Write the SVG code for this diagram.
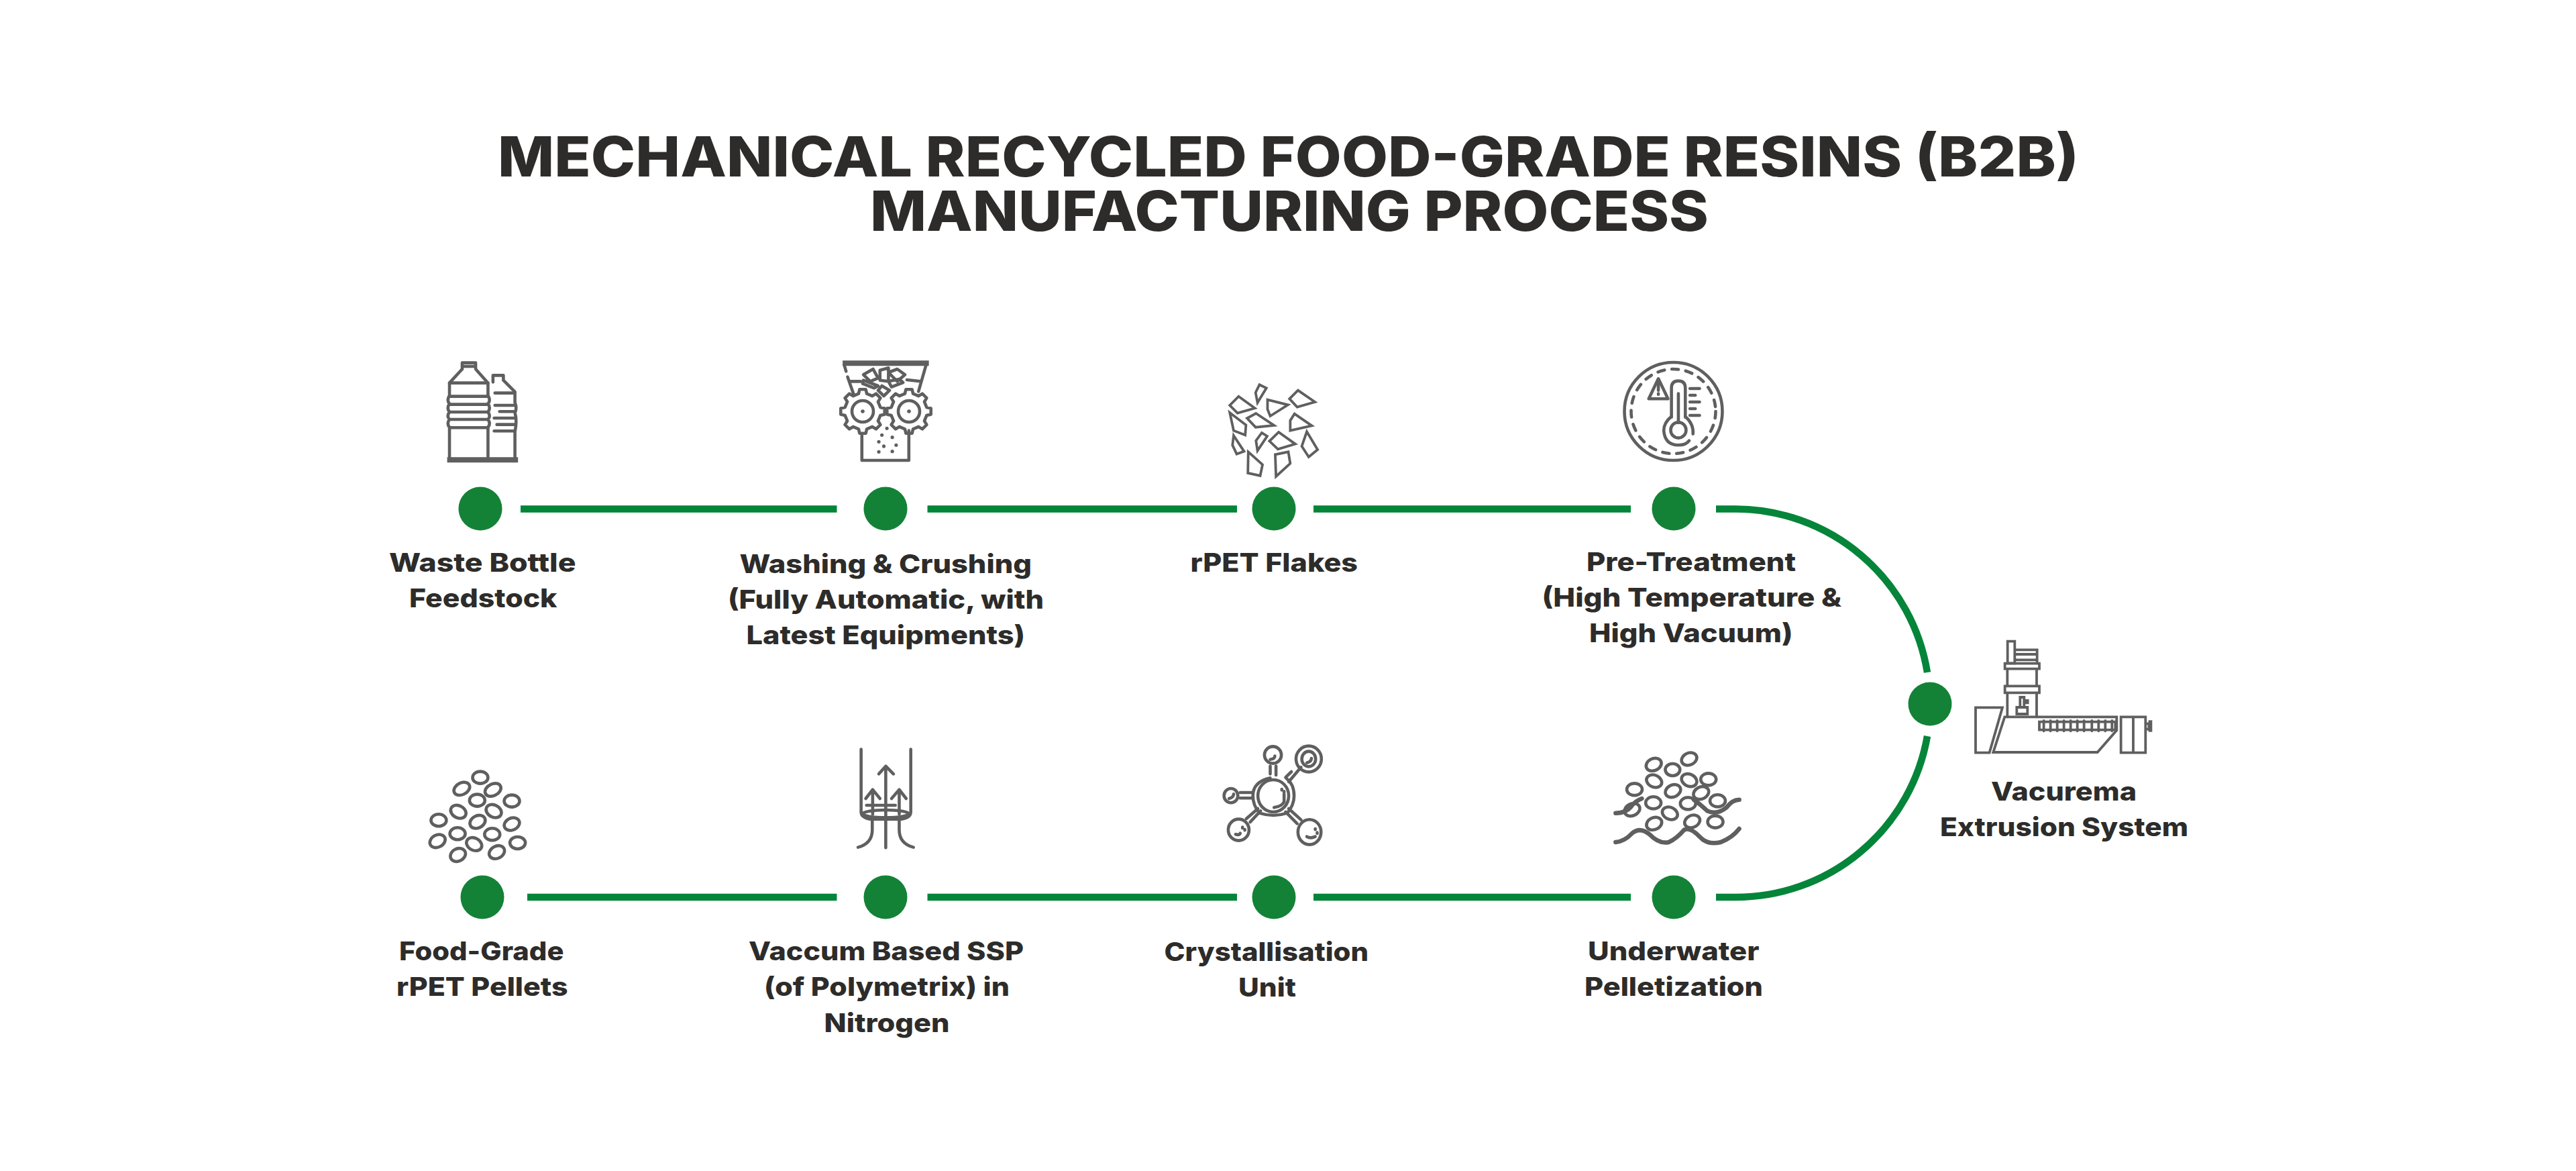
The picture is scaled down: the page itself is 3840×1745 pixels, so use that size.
<svg xmlns="http://www.w3.org/2000/svg" xmlns:xlink="http://www.w3.org/1999/xlink" width="3840" height="1745" viewBox="0 0 3840 1745">
<style>
.t{font-family:"Inter","Liberation Sans",sans-serif;font-weight:800;font-size:38.5px;fill:#2d2c2a}
.h{font-family:"Inter","Liberation Sans",sans-serif;font-weight:800;font-size:82.5px;fill:#2d2c2a}
.d{fill:#138237}
.c{fill:none;stroke:#05853a;stroke-width:10.5}
.i,.i *{fill:none;stroke:#5f5f5f;stroke-width:4.6;stroke-linejoin:round;stroke-linecap:round;vector-effect:non-scaling-stroke}
.th,.th *{stroke-width:3.8;stroke-linejoin:miter}
.f{fill:#5f5f5f!important;stroke:none!important}
.b{stroke-width:8!important;stroke-linecap:butt!important}
</style>
<defs>
<path id="gear" d="M26.3-6.1L32.7-4.6L32.7 4.6L26.3 6.1L22.9 14.3L26.4 19.9L19.9 26.4L14.3 22.9L6.1 26.3L4.6 32.7L-4.6 32.7L-6.1 26.3L-14.3 22.9L-19.9 26.4L-26.4 19.9L-22.9 14.3L-26.3 6.1L-32.7 4.6L-32.7-4.6L-26.3-6.1L-22.9-14.3L-26.4-19.9L-19.9-26.4L-14.3-22.9L-6.1-26.3L-4.6-32.7L4.6-32.7L6.1-26.3L14.3-22.9L19.9-26.4L26.4-19.9L22.9-14.3Z"/>
</defs>
<rect width="3840" height="1745" fill="#fff"/>
<g id="title">
<text class="h" x="742" y="263" textLength="2357" lengthAdjust="spacingAndGlyphs">MECHANICAL RECYCLED FOOD-GRADE RESINS (B2B)</text>
<text class="h" x="1297" y="343.5" textLength="1250" lengthAdjust="spacingAndGlyphs">MANUFACTURING PROCESS</text>
</g>
<g id="connectors">
<path class="c" d="M776 758.5H1247.5"/>
<path class="c" d="M1382.5 758.5H1844"/>
<path class="c" d="M1958 758.5H2431"/>
<path class="c" d="M2558 758.5H2587A290 290 0 0 1 2873 1002"/>
<path class="c" d="M2873 1097A290 290 0 0 1 2587 1337H2558"/>
<path class="c" d="M1958 1337H2431"/>
<path class="c" d="M1382.5 1337H1844"/>
<path class="c" d="M786 1337H1247.5"/>
</g>
<g id="node-waste-bottle">
<g class="i" transform="translate(600 500) scale(.574 .3333)">
<path d="M155 150V122H190V150L222 212V268Q230 290 222 305Q230 325 222 342Q230 360 222 375Q230 395 222 410V555"/>
<path d="M155 150L122 212V268Q114 290 122 305Q114 325 122 342Q114 360 122 375Q114 395 122 410V555"/>
<path d="M160 138H186M122 212H222M122 272H222M122 308H222M122 342H222M122 375H222M122 412H222"/>
<path d="M235 208V178H262V200L292 252V300Q298 325 292 345Q298 380 292 430V550"/>
<path d="M240 257H290M240 312H290M252 340H290M238 369H290M245 398H290M238 427H290"/>
<path class="b" d="M116 556H300"/>
</g>
<circle class="d" cx="716" cy="758" r="32.5"/>
<text class="t" x="580" y="852" textLength="278.5" lengthAdjust="spacingAndGlyphs">Waste Bottle</text>
<text class="t" x="610" y="905" textLength="220.5" lengthAdjust="spacingAndGlyphs">Feedstock</text>
</g>
<g id="node-washing-crushing">
<g class="i" transform="translate(600 500) scale(.574 .3333)">
<path class="b" d="M1143 124H1367"/>
<path d="M1360 130L1340 250M1147 130L1152 160M1156 185L1172 265M1160 205H1190M1310 198L1345 205"/>
<path d="M1197 175L1222 150L1235 190L1215 205ZM1240 155L1262 145L1262 205L1240 200ZM1262 165L1285 150L1305 175L1285 205ZM1197 200L1235 225L1225 235L1195 215ZM1262 205L1290 195L1300 210L1270 230ZM1245 225L1265 245L1250 270L1235 245Z"/>
<path d="M1193 440V558H1315V425"/>
<g class="f">
<ellipse class="f" cx="1258" cy="415" rx="4.5" ry="8"/><ellipse class="f" cx="1245" cy="445" rx="4.5" ry="8"/><ellipse class="f" cx="1272" cy="455" rx="4.5" ry="8"/><ellipse class="f" cx="1237" cy="475" rx="4.5" ry="8"/><ellipse class="f" cx="1250" cy="495" rx="4.5" ry="8"/><ellipse class="f" cx="1282" cy="490" rx="4.5" ry="8"/><ellipse class="f" cx="1237" cy="520" rx="4.5" ry="8"/><ellipse class="f" cx="1272" cy="518" rx="4.5" ry="8"/>
</g>
</g>
<g class="i">
<use href="#gear" transform="translate(1286 613)"/><circle cx="1286" cy="613" r="16"/><circle class="f" cx="1286" cy="613" r="2.8"/>
<use href="#gear" transform="translate(1355 613)"/><circle cx="1355" cy="613" r="16"/><circle class="f" cx="1355" cy="613" r="2.8"/>
</g>
<circle class="d" cx="1320" cy="758" r="32.5"/>
<text class="t" x="1102.5" y="853.5" textLength="435.5" lengthAdjust="spacingAndGlyphs">Washing &amp; Crushing</text>
<text class="t" x="1085" y="907" textLength="471" lengthAdjust="spacingAndGlyphs">(Fully Automatic, with</text>
<text class="t" x="1112.5" y="960" textLength="415.5" lengthAdjust="spacingAndGlyphs">Latest Equipments)</text>
</g>
<g id="node-rpet-flakes">
<g class="i th" transform="translate(1750 500) scale(.574 .3333)">
<path d="M222 220L240 235L217 300L212 255ZM168 272L210 325L165 347L145 312ZM243 287L296 310L250 360L243 330ZM322 245L366 297L320 320L300 283ZM145 345L187 400L185 445L155 425ZM213 348L260 402L212 410L190 370ZM313 350L358 403L302 425L302 380ZM228 435L242 450L217 515L213 470ZM272 432L315 485L270 508L248 472ZM345 430L373 510L350 543L332 495ZM155 447L182 518L163 530L152 490ZM193 520L230 577L224 627L192 615ZM297 520L302 572L265 630L263 532Z"/>
</g>
<circle class="d" cx="1899" cy="758" r="32.5"/>
<text class="t" x="1774.5" y="852" textLength="249.5" lengthAdjust="spacingAndGlyphs">rPET Flakes</text>
</g>
<g id="node-pre-treatment">
<g class="i">
<circle cx="2494.5" cy="613" r="73"/>
<circle cx="2494.5" cy="613" r="63" stroke-dasharray="10 11" stroke-linecap="butt"/>
</g>
<g class="i" transform="translate(1750 500) scale(.574 .3333)">
<path d="M1292 365V235Q1292 203 1310 203Q1328 203 1328 235V365"/>
<path d="M1292 362Q1272 390 1272 425Q1275 490 1310 490Q1330 490 1338 470M1328 362Q1350 395 1348 440"/>
<ellipse cx="1310" cy="423" rx="20" ry="35"/>
<path d="M1310 260V390"/>
<path d="M1340 237H1365M1340 267H1354M1340 297H1365M1340 327H1354M1340 357H1365"/>
<path d="M1258 193L1283 283H1233Z"/>
<path d="M1258 215V245M1258 260V263"/>
</g>
<circle class="d" cx="2495" cy="758" r="32.5"/>
<text class="t" x="2365" y="851" textLength="312" lengthAdjust="spacingAndGlyphs">Pre-Treatment</text>
<text class="t" x="2298.5" y="904" textLength="446.5" lengthAdjust="spacingAndGlyphs">(High Temperature &amp;</text>
<text class="t" x="2369" y="957" textLength="303.5" lengthAdjust="spacingAndGlyphs">High Vacuum)</text>
</g>
<g id="node-vacurema">
<g class="i th" transform="translate(2800 900) scale(.3333)">
<path d="M578 167H610V265H578ZM610 205H710V265M610 225H710M610 250H710"/>
<path d="M566 266H720V290H566ZM577 290V367M708 290V367"/>
<path d="M566 367H720V397H566ZM577 397V505M708 397V505"/>
<path d="M634 417H652V462H634ZM652 432H668V442H652ZM619 462H667V492H619Z"/>
<path d="M435 463H555L497 665H435Z"/>
<path d="M565 505H1066V565L980 663H514Z"/>
<path d="M720 527H1060V563H720Z"/>
<path d="M740 522V568M770 522V568M800 522V568M830 522V568M860 522V568M890 522V568M920 522V568M955 522V568M985 522V568M1015 522V568M1045 522V568"/>
<path d="M1085 505H1195V665H1085ZM1140 505V665M1195 535H1210V560H1195"/>
<rect class="f" x="1208" y="520" width="17" height="52"/>
</g>
<circle class="d" cx="2877" cy="1049" r="32.5"/>
<text class="t" x="2968" y="1192.5" textLength="217" lengthAdjust="spacingAndGlyphs">Vacurema</text>
<text class="t" x="2892" y="1246" textLength="370" lengthAdjust="spacingAndGlyphs">Extrusion System</text>
</g>
<g id="node-underwater-pelletization">
<g class="i" transform="translate(1750 1100) scale(.574 .3333)">
<ellipse cx="1338" cy="93" rx="19" ry="29" transform="rotate(15 1338 93)"/><ellipse cx="1246" cy="118" rx="19" ry="29" transform="rotate(15 1246 118)"/><ellipse cx="1295" cy="141" rx="19" ry="27"/><ellipse cx="1388" cy="184" rx="20" ry="27"/><ellipse cx="1247" cy="192" rx="19" ry="29" transform="rotate(-15 1247 192)"/><ellipse cx="1338" cy="188" rx="19" ry="29" transform="rotate(-15 1338 188)"/><ellipse cx="1196" cy="229" rx="20" ry="27"/><ellipse cx="1296" cy="236" rx="19" ry="29" transform="rotate(15 1296 236)"/><ellipse cx="1369" cy="245" rx="19" ry="29" transform="rotate(15 1369 245)"/><ellipse cx="1245" cy="289" rx="20" ry="27"/><ellipse cx="1335" cy="292" rx="20" ry="27"/><ellipse cx="1412" cy="280" rx="20" ry="27"/><ellipse cx="1190" cy="320" rx="19" ry="29" transform="rotate(15 1190 320)"/><ellipse cx="1288" cy="336" rx="19" ry="29" transform="rotate(-15 1288 336)"/><ellipse cx="1247" cy="382" rx="19" ry="29" transform="rotate(15 1247 382)"/><ellipse cx="1346" cy="372" rx="19" ry="29" transform="rotate(15 1346 372)"/><ellipse cx="1406" cy="374" rx="20" ry="27"/>
<path style="stroke-width:6.5" d="M1147 465Q1170 462 1190 425Q1210 395 1235 430Q1260 475 1285 465Q1305 450 1325 410Q1340 395 1365 440Q1385 480 1420 465Q1450 445 1468 405"/>
<path style="stroke-width:6.5" d="M1147 335Q1175 335 1190 300Q1200 280 1215 270M1350 275Q1370 300 1385 325Q1410 345 1435 310Q1450 275 1468 275"/>
</g>
<circle class="d" cx="2495" cy="1337" r="32.5"/>
<text class="t" x="2367" y="1431" textLength="255.5" lengthAdjust="spacingAndGlyphs">Underwater</text>
<text class="t" x="2362" y="1484" textLength="266" lengthAdjust="spacingAndGlyphs">Pelletization</text>
</g>
<g id="node-crystallisation">
<g class="i" transform="translate(1750 1100) scale(.574 .3333)">
<ellipse cx="258" cy="258" rx="40" ry="72"/>
<path d="M250 178Q205 195 205 258Q205 300 222 335Q258 355 294 335Q312 300 312 258Q312 205 292 180"/>
<ellipse cx="257" cy="75" rx="22" ry="38"/>
<ellipse cx="350" cy="93" rx="33" ry="58"/><ellipse cx="350" cy="93" rx="18" ry="34"/>
<ellipse cx="148" cy="257" rx="18" ry="32"/>
<ellipse cx="168" cy="410" rx="27" ry="48"/>
<ellipse cx="352" cy="420" rx="30" ry="56"/>
<path d="M250 125V160M265 125V165M298 195L330 130M290 175L305 150"/>
<path d="M172 243H205M172 268H205M218 315L188 360M225 325L198 375M298 315L330 365M290 330L320 382"/>
<path d="M286 250V285Q280 305 260 310M262 80Q262 92 250 95M357 90Q357 105 345 110M155 250Q155 265 143 270M345 440Q355 450 367 440M160 430Q170 435 172 425"/>
<path d="M280 228V232M286 238V242M178 398V402M184 408V412M367 405V409M372 422V426"/>
</g>
<circle class="d" cx="1899" cy="1337" r="32.5"/>
<text class="t" x="1735.5" y="1432" textLength="304.5" lengthAdjust="spacingAndGlyphs">Crystallisation</text>
<text class="t" x="1846" y="1485" textLength="86" lengthAdjust="spacingAndGlyphs">Unit</text>
</g>
<g id="node-vaccum-ssp">
<g class="i" transform="translate(600 1100) scale(.574 .3333)">
<path d="M1191 50V330Q1191 355 1215 362H1295Q1320 355 1320 330V50"/>
<ellipse cx="1255" cy="338" rx="60" ry="17"/>
<path d="M1255 350V130M1237 160L1255 125L1275 160"/>
<path d="M1221 340V235M1203 270L1221 230L1240 270"/>
<path d="M1290 340V235M1270 270L1290 230L1308 270"/>
<path d="M1205 300H1280"/>
<path d="M1255 365V490M1220 365V410Q1220 470 1183 488M1290 365V410Q1290 470 1327 488"/>
</g>
<circle class="d" cx="1320" cy="1337" r="32.5"/>
<text class="t" x="1116" y="1431" textLength="410" lengthAdjust="spacingAndGlyphs">Vaccum Based SSP</text>
<text class="t" x="1139" y="1484" textLength="366" lengthAdjust="spacingAndGlyphs">(of Polymetrix) in</text>
<text class="t" x="1228.6" y="1538" textLength="187" lengthAdjust="spacingAndGlyphs">Nitrogen</text>
</g>
<g id="node-food-grade-pellets">
<g class="i" transform="translate(600 1100) scale(.574 .3333)">
<ellipse cx="202" cy="176" rx="20" ry="27"/><ellipse cx="154" cy="226" rx="19" ry="30" transform="rotate(20 154 226)"/><ellipse cx="235" cy="231" rx="19" ry="30" transform="rotate(20 235 231)"/><ellipse cx="194" cy="278" rx="20" ry="27"/><ellipse cx="284" cy="281" rx="20" ry="27"/><ellipse cx="145" cy="329" rx="19" ry="30" transform="rotate(-15 145 329)"/><ellipse cx="237" cy="326" rx="19" ry="30" transform="rotate(-15 237 326)"/><ellipse cx="94" cy="367" rx="20" ry="27"/><ellipse cx="195" cy="374" rx="19" ry="30" transform="rotate(15 195 374)"/><ellipse cx="284" cy="384" rx="19" ry="29" transform="rotate(15 284 384)"/><ellipse cx="143" cy="427" rx="20" ry="27"/><ellipse cx="233" cy="430" rx="20" ry="27"/><ellipse cx="91" cy="460" rx="19" ry="30" transform="rotate(15 91 460)"/><ellipse cx="186" cy="474" rx="19" ry="30" transform="rotate(-15 186 474)"/><ellipse cx="299" cy="468" rx="20" ry="27"/><ellipse cx="144" cy="522" rx="19" ry="30" transform="rotate(12 144 522)"/><ellipse cx="245" cy="510" rx="19" ry="30" transform="rotate(15 245 510)"/>
</g>
<circle class="d" cx="719" cy="1337" r="32.5"/>
<text class="t" x="595" y="1431" textLength="245.5" lengthAdjust="spacingAndGlyphs">Food-Grade</text>
<text class="t" x="591" y="1484" textLength="255.5" lengthAdjust="spacingAndGlyphs">rPET Pellets</text>
</g>
</svg>
